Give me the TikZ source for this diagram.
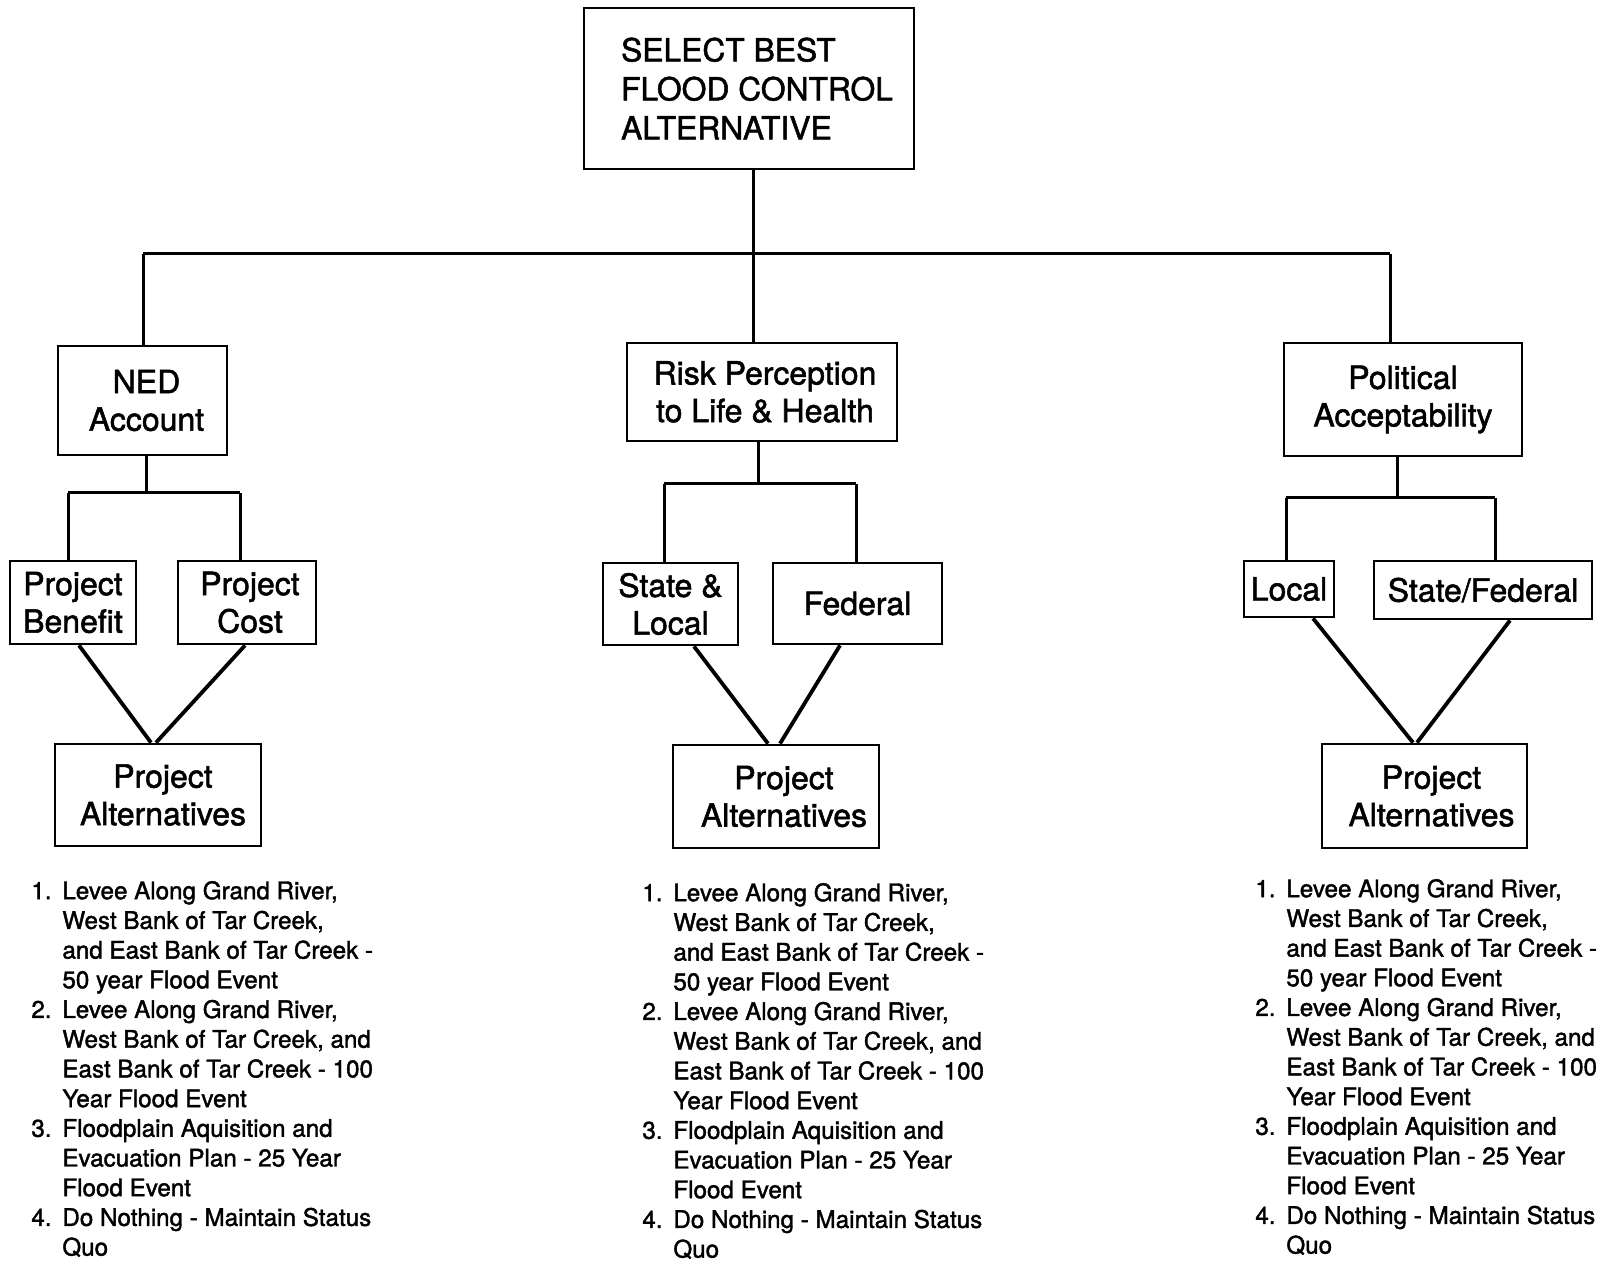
\documentclass[tikz,border=0pt]{standalone}
\usepackage{fontspec}
\setmainfont{TeX Gyre Heros}[FakeBold=1.6]
\newcommand{\altlistbody}{%
\begin{tabular}{@{}l@{}l@{}}
\makebox[15.5pt][l]{1.} & Levee Along Grand River,\\
 & West Bank of Tar Creek,\\
 & and East Bank of Tar Creek -\\
 & 50 year Flood Event\\
\makebox[15.5pt][l]{2.} & Levee Along Grand River,\\
 & West Bank of Tar Creek, and\\
 & East Bank of Tar Creek - 100\\
 & Year Flood Event\\
\makebox[15.5pt][l]{3.} & Floodplain Aquisition and\\
 & Evacuation Plan - 25 Year\\
 & Flood Event\\
\makebox[15.5pt][l]{4.} & Do Nothing - Maintain Status\\
 & Quo
\end{tabular}}
\begin{document}
\begin{tikzpicture}[x=0.5pt,y=-0.5pt,
  box/.style={draw, line width=1.4pt, inner sep=0pt, align=center,
    font=\fontsize{16}{18.8}\selectfont},
  conn/.style={line width=1.5pt},
  diag/.style={line width=1.9pt},
  altlist/.style={anchor=north west, inner sep=0pt,
    font=\fontsize{12.1}{14.85}\selectfont}]
\useasboundingbox (0,0) rectangle (1602,1262);
\fill[white] (0,0) rectangle (1602,1262);

% boxes
\node[box, align=left, minimum width=165pt, minimum height=80.5pt,
  font=\fontsize{15.9}{19.5}\selectfont] (top) at (749,88.5)
  {\hspace*{8pt}SELECT BEST\\\hspace*{8pt}FLOOD CONTROL\\\hspace*{8pt}ALTERNATIVE};
\node[box, minimum width=84.5pt, minimum height=54.5pt] (ned) at (142.5,400.5) {\hspace*{4pt}NED\\\hspace*{4pt}Account};
\node[box, minimum width=135pt, minimum height=49pt] (risk) at (762,392) {\hspace*{3pt}Risk Perception\\\hspace*{3pt}to Life \& Health};
\node[box, minimum width=119pt, minimum height=56.5pt] (pol) at (1403,399.5) {Political\\Acceptability};

\node[box, minimum width=63pt, minimum height=41.5pt] (ben) at (73,602.5) {Project\\Benefit};
\node[box, minimum width=69pt, minimum height=41.5pt] (cost) at (247,602.5) {\hspace*{3pt}Project\\\hspace*{3pt}Cost};
\node[box, minimum width=67.5pt, minimum height=41pt] (sl) at (670.5,604) {State \&\\Local};
\node[box, minimum width=84.5pt, minimum height=40.5pt] (fed) at (857.5,603.5) {Federal};
\node[box, minimum width=45pt, minimum height=28pt] (loc) at (1289,589) {Local};
\node[box, minimum width=109pt, minimum height=29pt] (sf) at (1483,590) {State/Federal};

\node[box, minimum width=103pt, minimum height=51pt] (pa1) at (158,795) {\hspace*{5pt}Project\\\hspace*{5pt}Alternatives};
\node[box, minimum width=103pt, minimum height=51.5pt] (pa2) at (776,796.5) {\hspace*{8pt}Project\\\hspace*{8pt}Alternatives};
\node[box, minimum width=102.5pt, minimum height=52pt] (pa3) at (1424.5,796) {\hspace*{7pt}Project\\\hspace*{7pt}Alternatives};

% junction coordinates
\coordinate (jt) at (753,254);
\coordinate (jl) at (143,254);
\coordinate (jr) at (1390,254);
\coordinate (n0) at (146,493);
\coordinate (nl) at (68,493);
\coordinate (nr) at (240,493);
\coordinate (r0) at (758,484);
\coordinate (rl) at (664,484);
\coordinate (rr) at (856,484);
\coordinate (p0) at (1397,498);
\coordinate (pl) at (1286,498);
\coordinate (pr) at (1495,498);

% top level connectors
\draw[conn] (top.south -| jt) -- (jt);
\draw[conn] (jl) -- (jr);
\draw[conn] (jl) -- (ned.north -| jl);
\draw[conn] (jt) -- (risk.north -| jt);
\draw[conn] (jr) -- (pol.north -| jr);

% NED branch
\draw[conn] (ned.south -| n0) -- (n0);
\draw[conn] (nl) -- (nr);
\draw[conn] (nl) -- (ben.north -| nl);
\draw[conn] (nr) -- (cost.north -| nr);
\draw[diag] ([xshift=3pt]ben.south) -- ([xshift=-3.5pt]pa1.north);
\draw[diag] ([xshift=-1pt]cost.south) -- ([xshift=-1pt]pa1.north);

% Risk branch
\draw[conn] (risk.south -| r0) -- (r0);
\draw[conn] (rl) -- (rr);
\draw[conn] (rl) -- (sl.north -| rl);
\draw[conn] (rr) -- (fed.north -| rr);
\draw[diag] ([xshift=11.75pt]sl.south) -- ([xshift=-4pt]pa2.north);
\draw[diag] ([xshift=-8.75pt]fed.south) -- ([xshift=2pt]pa2.north);

% Political branch
\draw[conn] (pol.south -| p0) -- (p0);
\draw[conn] (pl) -- (pr);
\draw[conn] (pl) -- (loc.north -| pl);
\draw[conn] (pr) -- (sf.north -| pr);
\draw[diag] ([xshift=12pt]loc.south) -- ([xshift=-5.75pt]pa3.north);
\draw[diag] ([xshift=13.5pt]sf.south) -- ([xshift=-3.75pt]pa3.north);

% lists
\node[altlist] (list1) at (31,878) {\altlistbody};
\node[altlist] (list2) at (642,880) {\altlistbody};
\node[altlist] (list3) at (1255,876) {\altlistbody};
\end{tikzpicture}
\end{document}
